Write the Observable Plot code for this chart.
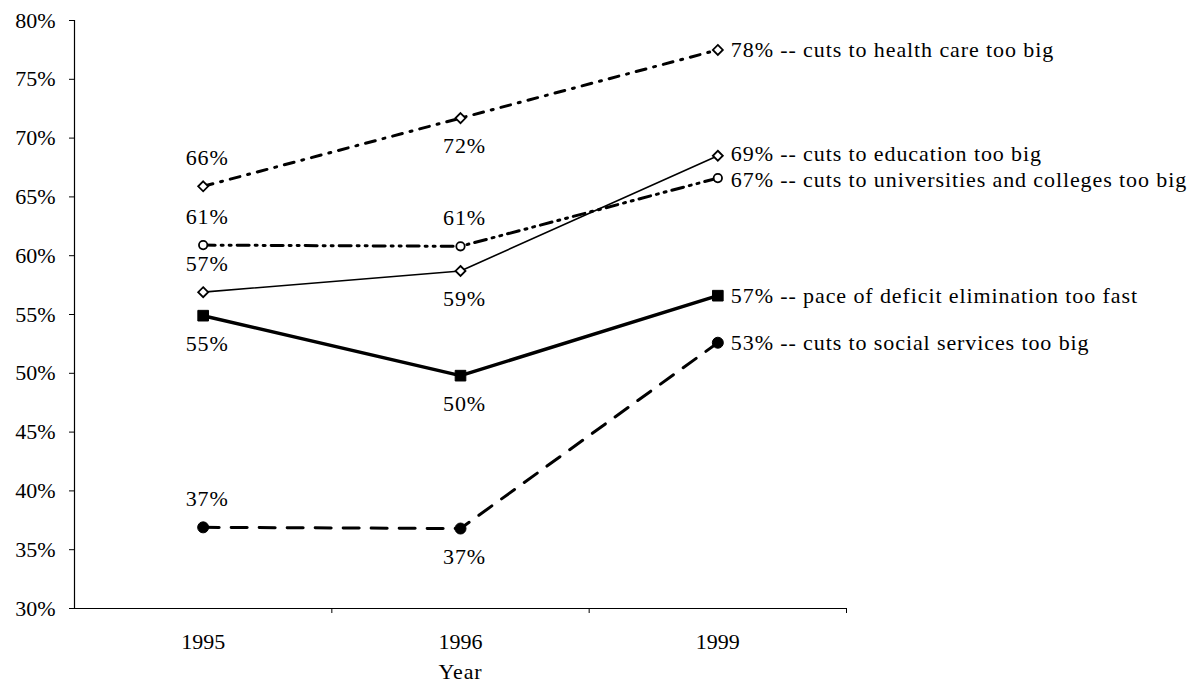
<!DOCTYPE html>
<html><head><meta charset="utf-8">
<script src="https://cdn.jsdelivr.net/npm/d3@7"></script>
<script src="https://cdn.jsdelivr.net/npm/@observablehq/plot@0.6"></script>
<style>
body{margin:0;background:#fff}
#chart svg g[aria-label="text"] text{letter-spacing:0.9px}
</style>
</head><body><div id="chart"></div>
<script>
// ---- data ----
const years = ["1995", "1996", "1999"];
const seriesNames = [
  "cuts to health care too big",
  "cuts to education too big",
  "cuts to universities and colleges too big",
  "pace of deficit elimination too fast",
  "cuts to social services too big"
];
const health = [65.9, 71.7, 77.5];
const education = [56.9, 58.7, 68.5];
const universities = [60.9, 60.8, 66.6];
const deficit = [54.9, 49.8, 56.6];
const social = [36.9, 36.8, 52.6];
const valueLabels = [
  ["66%", "72%", "78%"],
  ["57%", "59%", "69%"],
  ["61%", "61%", "67%"],
  ["55%", "50%", "57%"],
  ["37%", "37%", "53%"]
];
const yTicks = [30, 35, 40, 45, 50, 55, 60, 65, 70, 75, 80];
const xTitle = "Year";

// ---- styling (not data) ----
const seriesValues = [health, education, universities, deficit, social];
const styles = [
  {dash: "10,8,2,8", width: 3, symbol: "diamond2", fill: "white", r: 4.5, endDy: 0},
  {dash: null, width: 1.6, symbol: "diamond2", fill: "white", r: 4.5, endDy: -2},
  {dash: "12,6,2,6,2,6", width: 3, symbol: "circle", fill: "white", r: 4.2, endDy: 2},
  {dash: null, width: 3.5, symbol: "square", fill: "black", r: 6, endDy: 0},
  {dash: "16,12", width: 3, symbol: "circle", fill: "black", r: 5.5, endDy: 0}
];
// -1 label above point, +1 below (for 1995, 1996)
const labelSide = [[-1, 1], [-1, 1], [-1, -1], [1, 1], [-1, 1]];

const rows = [];
seriesValues.forEach((vals, s) => vals.forEach((v, i) => rows.push({s, i, v, label: valueLabels[s][i]})));

const font = "'Liberation Serif', 'Times New Roman', serif";
const fs = 22;
const marks = [
  Plot.ruleX([-0.5], {strokeWidth: 1.2}),
  Plot.ruleY([30], {strokeWidth: 1.2}),
  Plot.axisY({ticks: yTicks, tickSize: 5, tickPadding: 14, tickFormat: d => d + "%", label: null,
    fontSize: fs, fontFamily: font}),
  Plot.axisX({ticks: [0.5, 1.5, 2.5], tickSize: 5, tickFormat: () => "", label: null}),
  Plot.axisX({ticks: [0, 1, 2], tickSize: 0, tickPadding: 25, tickFormat: i => years[i], fontSize: fs,
    fontFamily: font, label: null}),
  Plot.text([xTitle], {frameAnchor: "bottom", dy: 70, text: d => d, fontSize: fs, fontFamily: font, fill: "black"})
];
styles.forEach((st, s) => {
  const d = rows.filter(r => r.s === s);
  marks.push(Plot.line(d, {x: "i", y: "v", stroke: "black", strokeWidth: st.width,
    strokeDasharray: st.dash, strokeLinecap: st.dash ? "round" : "butt"}));
});
styles.forEach((st, s) => {
  const d = rows.filter(r => r.s === s);
  marks.push(Plot.dot(d, {x: "i", y: "v", symbol: () => st.symbol, r: st.r, fill: st.fill,
    stroke: "black", strokeWidth: st.fill === "white" ? 1.8 : 1}));
  [0, 1].forEach(i => {
    marks.push(Plot.text(d.filter(r => r.i === i), {x: "i", y: "v", text: "label", dx: 4,
      dy: labelSide[s][i] * 28, fontSize: fs, fontFamily: font, fill: "black"}));
  });
  marks.push(Plot.text(d.filter(r => r.i === 2), {x: "i", y: "v", text: r => r.label + " -- " + seriesNames[s],
    dx: 13, dy: st.endDy, textAnchor: "start", fontSize: fs, fontFamily: font, fill: "black"}));
});

const chart = Plot.plot({
  width: 1204,
  height: 684,
  marginLeft: 74,
  marginRight: 358,
  marginTop: 20,
  marginBottom: 76,
  style: {fontFamily: font, fontSize: fs + "px", background: "white", color: "black"},
  x: {type: "linear", domain: [-0.5, 2.5]},
  y: {domain: [30, 80]},
  marks
});
document.getElementById("chart").appendChild(chart);
</script>
</body></html>
